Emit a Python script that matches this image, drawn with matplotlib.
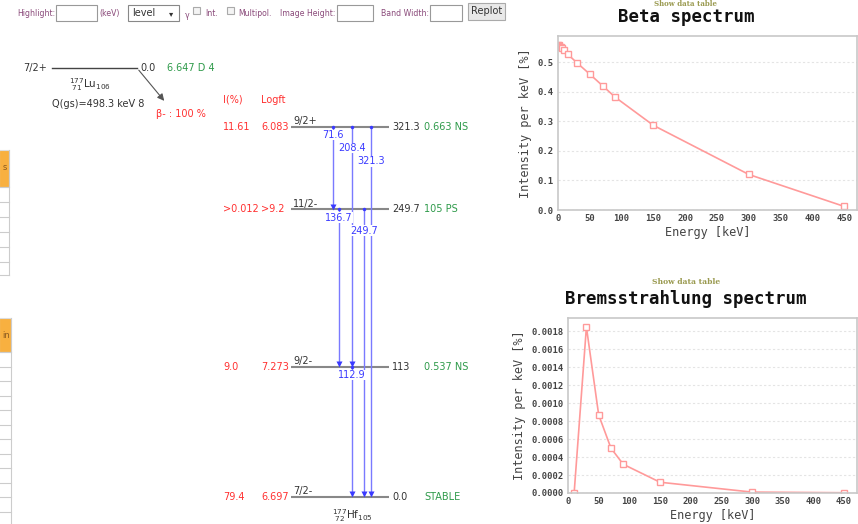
import matplotlib
matplotlib.use("Agg")
import matplotlib.pyplot as plt
from matplotlib.patches import Rectangle, FancyArrowPatch
from matplotlib.ticker import FormatStrFormatter, MultipleLocator

# ---------------- data ----------------
beta_E = [0, 1, 2, 4, 6, 10, 15, 30, 50, 70, 90, 150, 300, 450]
beta_I = [0.557, 0.556, 0.554, 0.551, 0.548, 0.539, 0.527, 0.497, 0.459, 0.420, 0.381, 0.286, 0.120, 0.012]

brems_E = [10, 30, 50, 70, 90, 150, 300, 450]
brems_I = [0.0, 0.00185, 0.00087, 0.00050, 0.00032, 0.00012, 0.00001, 0.000003]

level_E = [0.0, 113.0, 249.7, 321.3]
level_lbl = ["0.0", "113", "249.7", "321.3"]
level_spin = ["7/2-", "9/2-", "11/2-", "9/2+"]
level_T = ["STABLE", "0.537 NS", "105 PS", "0.663 NS"]
level_I = ["79.4", "9.0", ">0.012", "11.61"]
level_logft = ["6.697", "7.273", ">9.2", "6.083"]

gamma_lbl = ["71.6", "208.4", "321.3", "136.7", "249.7", "112.9"]
gamma_from = [321.3, 321.3, 321.3, 249.7, 249.7, 113.0]
gamma_to = [249.7, 113.0, 0.0, 113.0, 0.0, 0.0]

# layout (pixels) for the gamma arrows and label stacking
gamma_x = [333, 352, 371, 339, 364, 352]
gamma_stack = [0, 1, 2, 0, 1, 0]

W, H = 858, 524
fig = plt.figure(figsize=(W / 100, H / 100), dpi=100)
fig.patch.set_facecolor("white")

RED = "#ff3030"
GREEN = "#2e9a4a"
BLUE = "#3a3aff"
LBLUE = "#7a7aff"
GRAY = "#888888"
FORM = "#8a4a7a"

# pixel overlay axes
pix = fig.add_axes([0, 0, 1, 1])
pix.set_xlim(0, W)
pix.set_ylim(H, 0)
pix.axis("off")
pix.patch.set_alpha(0)

# ---------- form bar ----------
def box(x0, x1, y0=5, y1=21, fc="white", ec="#999999"):
    pix.add_patch(Rectangle((x0, y0), x1 - x0, y1 - y0, fc=fc, ec=ec, lw=0.8))

fs_form = 5.6
pix.text(17, 13.5, "Highlight:", fontsize=fs_form, color=FORM, va="center", family="DejaVu Sans")
box(56, 97)
pix.text(99, 13.5, "(keV)", fontsize=fs_form, color=FORM, va="center")
box(128, 179, ec="#888888")
pix.text(132, 13, "level", fontsize=7, color="#333333", va="center")
pix.text(169, 13.5, "\u25BE", fontsize=6, color="#333333", va="center")
pix.text(185, 15, "\u03b3", fontsize=5.6, color=FORM, va="center")
box(193, 200, 7, 14, ec="#aaaaaa", fc="#f4f4f4")
pix.text(205, 13.5, "Int.", fontsize=fs_form, color=FORM, va="center")
box(227, 234, 7, 14, ec="#aaaaaa", fc="#f4f4f4")
pix.text(238, 13.5, "Multipol.", fontsize=fs_form, color=FORM, va="center")
pix.text(280, 13.5, "Image Height:", fontsize=fs_form, color=FORM, va="center")
box(337, 373)
pix.text(381, 13.5, "Band Width:", fontsize=fs_form, color=FORM, va="center")
box(430, 462)
box(468, 505, 3, 20, fc="#e9e9e9", ec="#aaaaaa")
pix.text(486.5, 11.5, "Replot", fontsize=7, color="#333333", va="center", ha="center")

# ---------- left side tables ----------
ORANGE = "#f8b040"
pix.add_patch(Rectangle((-1, 150), 10, 37, fc=ORANGE, ec="#dddddd", lw=0.8))
pix.text(7, 168, "s", fontsize=6, color="#8a5a20", ha="right", va="center")
for yy in [187, 202, 217, 232, 247, 262, 275]:
    pix.plot([0, 9], [yy, yy], color="#cccccc", lw=0.8)
pix.plot([9, 9], [150, 275], color="#cccccc", lw=0.8)
pix.add_patch(Rectangle((-1, 318), 12, 34, fc=ORANGE, ec="#dddddd", lw=0.8))
pix.text(10, 335, "in", fontsize=6, color="#8a5a20", ha="right", va="center")
yy = 352
while yy < H:
    pix.plot([0, 11], [yy, yy], color="#cccccc", lw=0.8)
    yy += 14.5
pix.plot([11, 11], [318, H], color="#cccccc", lw=0.8)

# ---------- parent nuclide ----------
fs = 7
pix.text(47, 68, "7/2+", fontsize=fs, color="#333333", ha="right", va="center")
pix.plot([52, 137], [68, 68], color="#444444", lw=1)
pix.text(140, 68, "0.0", fontsize=fs, color="#333333", ha="left", va="center")
pix.text(167, 68, "6.647 D 4", fontsize=fs, color=GREEN, ha="left", va="center")
pix.text(90, 85, r"$^{177}_{\ 71}\mathrm{Lu}_{106}$", fontsize=7.5, color="#333333", ha="center", va="center")
pix.text(52, 104, "Q(gs)=498.3 keV 8", fontsize=fs, color="#333333", ha="left", va="center")
pix.add_patch(FancyArrowPatch((137, 68), (166, 103), arrowstyle="-|>,head_length=4,head_width=2",
                              color="#555555", lw=0.8, mutation_scale=1))
pix.text(156, 114, "\u03b2- : 100 %", fontsize=fs, color=RED, ha="left", va="center")
pix.text(223, 100, "I(%)", fontsize=fs, color=RED, ha="left", va="center")
pix.text(261, 100, "Logft", fontsize=fs, color=RED, ha="left", va="center")

# ---------- level scheme (y in keV) ----------
kev_per_px = 321.3 / (497 - 127)
lev = fig.add_axes([0, 0, 1, 1])
lev.set_xlim(0, W)
lev.set_ylim(-(H - 497) * kev_per_px, 497 * kev_per_px)
lev.axis("off")
lev.patch.set_alpha(0)

for E, lbl, sp, T, I, lf in zip(level_E, level_lbl, level_spin, level_T, level_I, level_logft):
    lev.plot([291, 389], [E, E], color=GRAY, lw=1.5, solid_capstyle="butt")
    lev.text(392, E, lbl, fontsize=fs, color="#333333", ha="left", va="center")
    lev.text(424, E, T, fontsize=fs, color=GREEN, ha="left", va="center")
    lev.text(223, E, I, fontsize=fs, color=RED, ha="left", va="center")
    lev.text(261, E, lf, fontsize=fs, color=RED, ha="left", va="center")
    lev.annotate(sp, (293, E), xytext=(0, 0.5), textcoords="offset points",
                 fontsize=fs, color="#333333", ha="left", va="bottom")

for lbl, e0, e1, x, k in zip(gamma_lbl, gamma_from, gamma_to, gamma_x, gamma_stack):
    lev.plot([x, x], [e0, e1 + 3], color=LBLUE, lw=1)
    lev.plot([x], [e0], marker="o", ms=2.5, color=BLUE, mec="none")
    lev.plot([x], [e1 + 2.5], marker="v", ms=4, color=BLUE, mec="none")
    lev.annotate(lbl, (x, e0), xytext=(0, -5.8 - 9.4 * k), textcoords="offset points",
                 fontsize=fs, color=BLUE, ha="center", va="center",
                 bbox=dict(fc="white", ec="none", pad=0.3))

lev.text(352, -16, r"$^{177}_{\ 72}\mathrm{Hf}_{105}$", fontsize=7.5, color="#333333", ha="center", va="center")

# ---------- spectra ----------
MONO = "DejaVu Sans Mono"
PINK = "#ff9a9a"

def fpos(l, r, t, b):
    return [l / W, 1 - b / H, (r - l) / W, (b - t) / H]

def style(ax, fmt):
    for s in ax.spines.values():
        s.set_color("#c8c8c8")
        s.set_linewidth(1.2)
    ax.tick_params(length=0, labelsize=6.4, colors="#444444", pad=3)
    for t in ax.get_xticklabels() + ax.get_yticklabels():
        t.set_fontfamily(MONO)
        t.set_fontweight("bold")
    ax.yaxis.set_major_formatter(FormatStrFormatter(fmt))
    ax.xaxis.set_major_locator(MultipleLocator(50))
    ax.grid(axis="y", color="#e4e4e4", ls=(0, (2, 2)), lw=0.8)
    ax.set_axisbelow(True)
    ax.set_xlabel("Energy [keV]", fontsize=8.6, family=MONO, color="#444444", labelpad=2)
    ax.set_ylabel("Intensity per keV [%]", fontsize=8.6, family=MONO, color="#444444", labelpad=4)

ax1 = fig.add_axes(fpos(558, 857, 36, 210))
ax1.plot(beta_E, beta_I, color=PINK, lw=1.2, marker="s", ms=4, mfc="white", mec=PINK, mew=1)
ax1.set_xlim(0, 470)
ax1.set_ylim(0, 0.588)
ax1.yaxis.set_major_locator(MultipleLocator(0.1))
style(ax1, "%.1f")
fig.text(686 / W, 1 - 17 / H, "Beta spectrum", fontsize=12.5, family=MONO, fontweight="bold",
         ha="center", va="center", color="#111111")
fig.text(686 / W, 1 - 0.5 / H, "Show data table", fontsize=5.0, family="DejaVu Serif",
         fontweight="bold", ha="center", va="top", color="#9a9a50")

ax2 = fig.add_axes(fpos(568, 857, 318, 493))
ax2.plot(brems_E, brems_I, color=PINK, lw=1.2, marker="s", ms=4, mfc="white", mec=PINK, mew=1)
ax2.set_xlim(0, 471)
ax2.set_ylim(0, 0.00195)
ax2.yaxis.set_major_locator(MultipleLocator(0.0002))
style(ax2, "%.4f")
fig.text(686 / W, 1 - 299 / H, "Bremsstrahlung spectrum", fontsize=12.5, family=MONO, fontweight="bold",
         ha="center", va="center", color="#111111")
fig.text(686 / W, 1 - 282 / H, "Show data table", fontsize=5.5, family="DejaVu Serif",
         fontweight="bold", ha="center", va="center", color="#9a9a50")

fig.savefig("out.png", dpi=100, facecolor="white")
